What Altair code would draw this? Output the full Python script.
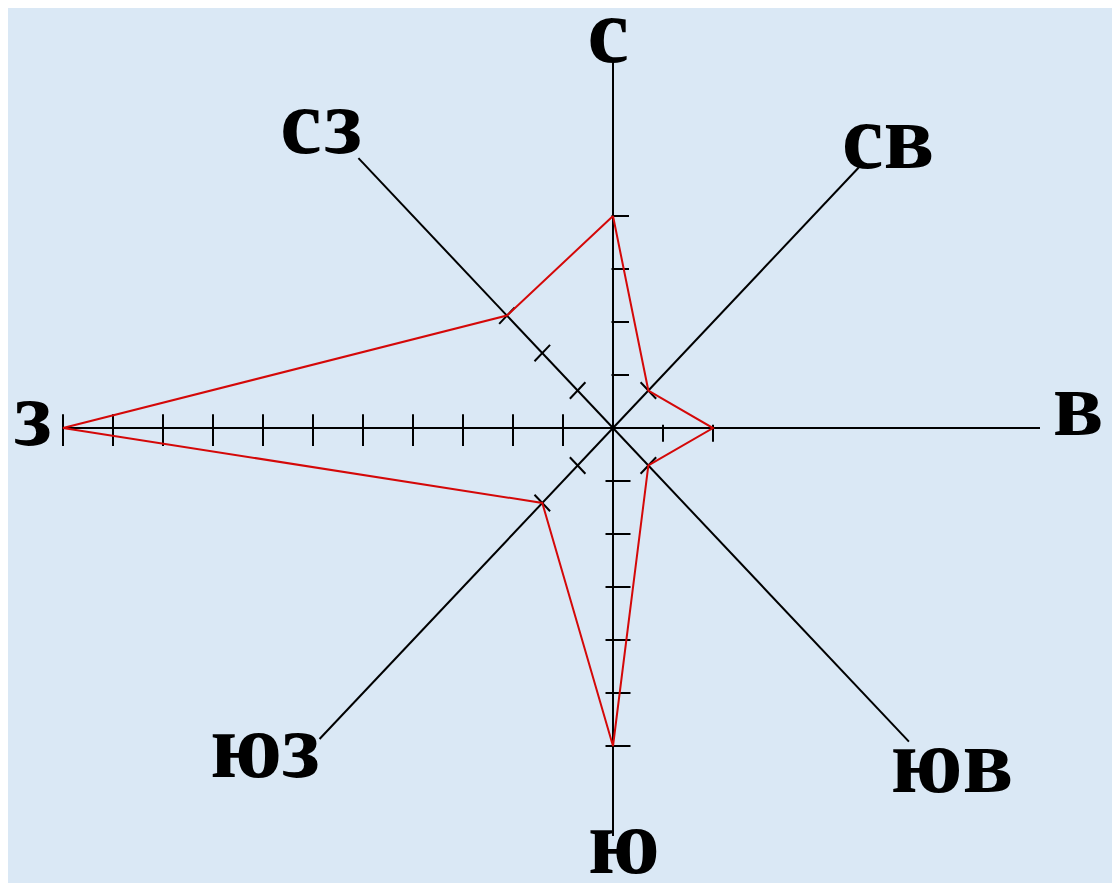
import altair as alt
import pandas as pd
import numpy as np

# --- data: wind rose (number of days per direction) ---
directions = ["с", "св", "в", "юв", "ю", "юз", "з", "сз"]
angles_deg = [0, 45, 90, 135, 180, 225, 270, 315]
days = [4, 1, 2, 1, 6, 2, 11, 3]

# --- layout (in data units) ---
axis_len = [6.9, 6.95, 8.54, 8.37, 7.7, 8.3, 11.0, 7.2]
label_x = [-0.1, 5.5, 9.3, 6.78, 0.22, -6.96, -11.6, -5.84]
label_y = [6.9, 4.91, -0.13, -6.87, -8.4, -6.58, -0.32, 5.19]
# tick extents along the perpendicular (clockwise-rotated) direction
tick_a = [-0.03, -0.22, -0.06, -0.22, -0.35, -0.22, -0.34, -0.22]
tick_b = [0.32, 0.22, 0.26, 0.22, 0.15, 0.22, 0.26, 0.22]

th = np.radians(angles_deg)
sin_t, cos_t = np.sin(th), np.cos(th)

axes_df = pd.DataFrame({
    "x": 0.0, "y": 0.0,
    "x2": np.round(np.array(axis_len) * sin_t, 4),
    "y2": np.round(np.array(axis_len) * cos_t, 4),
})

rows = []
for i, v in enumerate(days):
    px, py = cos_t[i], -sin_t[i]
    for k in range(1, v + 1):
        cx, cy = k * sin_t[i], k * cos_t[i]
        rows.append({"x": cx + tick_a[i] * px, "y": cy + tick_a[i] * py,
                     "x2": cx + tick_b[i] * px, "y2": cy + tick_b[i] * py})
ticks_df = pd.DataFrame(rows)

poly = pd.DataFrame({
    "dir": directions + [directions[0]],
    "order": list(range(len(days) + 1)),
    "x": list(np.array(days) * sin_t) + [days[0] * sin_t[0]],
    "y": list(np.array(days) * cos_t) + [days[0] * cos_t[0]],
})

labels_df = pd.DataFrame({"label": directions, "x": label_x, "y": label_y})

xs = alt.Scale(domain=[-12.1, 9.98], nice=False, zero=False)
ys = alt.Scale(domain=[-8.585, 7.925], nice=False, zero=False)

axes_layer = alt.Chart(axes_df).mark_rule(color="black", strokeWidth=2).encode(
    x=alt.X("x:Q", scale=xs, axis=None), y=alt.Y("y:Q", scale=ys, axis=None),
    x2="x2:Q", y2="y2:Q")

ticks_layer = alt.Chart(ticks_df).mark_rule(color="black", strokeWidth=2).encode(
    x=alt.X("x:Q", scale=xs, axis=None), y=alt.Y("y:Q", scale=ys, axis=None),
    x2="x2:Q", y2="y2:Q")

poly_layer = alt.Chart(poly).mark_line(color="#d40808", strokeWidth=2).encode(
    x=alt.X("x:Q", scale=xs, axis=None), y=alt.Y("y:Q", scale=ys, axis=None),
    order="order:Q")

text_layer = alt.Chart(labels_df).mark_text(
    font="Liberation Serif", fontWeight="bold", fontSize=94,
    align="center", baseline="alphabetic", color="black").encode(
    x=alt.X("x:Q", scale=xs, axis=None), y=alt.Y("y:Q", scale=ys, axis=None),
    text="label:N")

chart = alt.layer(axes_layer, ticks_layer, poly_layer, text_layer).properties(
    width=1104, height=875, padding=0, autosize="none",
    background="#dae8f5",
).configure_view(stroke=None)

chart.save("out.html", embed_options={"renderer": "svg", "actions": False})
